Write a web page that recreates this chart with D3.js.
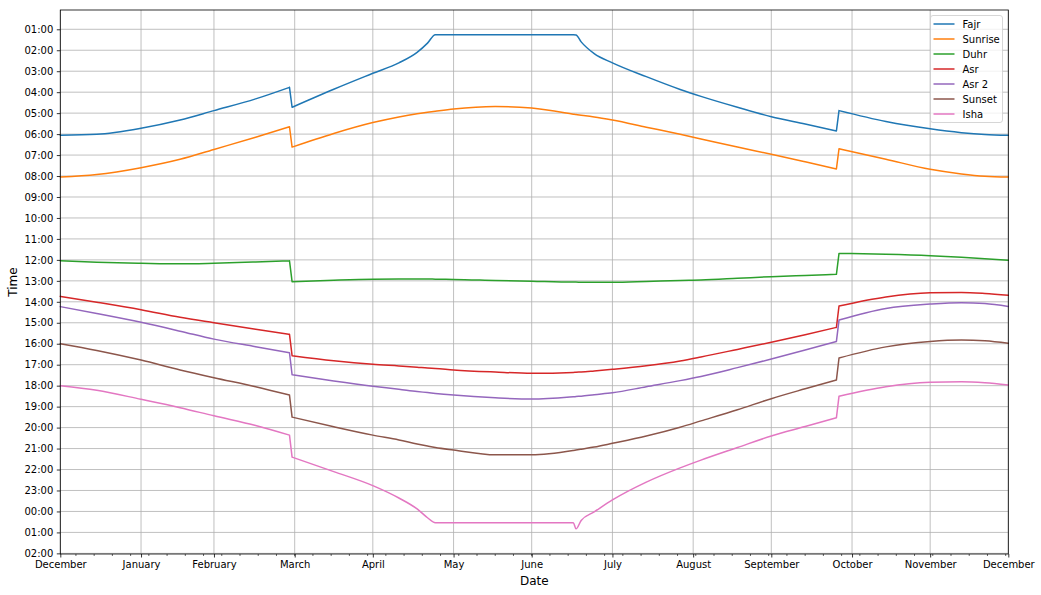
<!DOCTYPE html>
<html>
<head>
<meta charset="utf-8">
<script src="https://cdn.jsdelivr.net/npm/d3@7"></script>
<style>
  html, body { margin: 0; padding: 0; background: #fff; }
  svg { display: block; }
  text { font-family: "DejaVu Sans", sans-serif; }
</style>
</head>
<body>
<svg id="chart" width="1041" height="595"></svg>
<script>
// ---- data (day of year, 0 = 1 Jan 2019; times in hours, >24 = after midnight) ----
const days = [0, 14, 31, 46, 59, 75, 88, 89, 105, 120, 130, 137, 141, 144, 151, 167, 181, 197, 198, 200, 205, 212, 225, 238, 246, 260, 273, 286, 298, 299, 317, 334, 346, 355, 364];

const fajr    = [6.06, 6.01, 5.72, 5.33, 4.88, 4.32, 3.77, 4.72, 3.86, 3.10, 2.60, 2.10, 1.66, 1.26, 1.26, 1.26, 1.26, 1.26, 1.27, 1.60, 2.16, 2.60, 3.26, 3.87, 4.20, 4.72, 5.17, 5.52, 5.85, 4.88, 5.40, 5.75, 5.93, 6.02, 6.06];
const sunrise = [8.05, 7.93, 7.60, 7.20, 6.73, 6.15, 5.65, 6.62, 5.97, 5.45, 5.18, 5.03, 4.96, 4.91, 4.80, 4.68, 4.76, 5.05, 5.07, 5.10, 5.18, 5.33, 5.67, 6.01, 6.23, 6.62, 6.96, 7.32, 7.66, 6.70, 7.20, 7.68, 7.90, 8.01, 8.05];
const duhr    = [12.04, 12.11, 12.16, 12.19, 12.16, 12.10, 12.04, 13.04, 12.97, 12.92, 12.91, 12.91, 12.91, 12.92, 12.93, 12.98, 13.02, 13.06, 13.06, 13.07, 13.07, 13.07, 13.03, 12.98, 12.96, 12.88, 12.80, 12.74, 12.69, 11.69, 11.73, 11.80, 11.88, 11.95, 12.02];
const asr     = [13.74, 14.02, 14.38, 14.74, 15.00, 15.31, 15.55, 16.57, 16.81, 16.98, 17.06, 17.12, 17.16, 17.18, 17.25, 17.35, 17.41, 17.37, 17.36, 17.35, 17.30, 17.22, 17.05, 16.82, 16.63, 16.27, 15.93, 15.57, 15.22, 14.20, 13.77, 13.57, 13.55, 13.60, 13.69];
const asr2    = [14.23, 14.56, 14.98, 15.40, 15.78, 16.14, 16.43, 17.48, 17.78, 18.03, 18.17, 18.28, 18.33, 18.37, 18.45, 18.58, 18.64, 18.53, 18.52, 18.50, 18.43, 18.34, 18.05, 17.76, 17.56, 17.14, 16.73, 16.30, 15.89, 14.87, 14.32, 14.11, 14.04, 14.08, 14.22];
const sunset  = [16.00, 16.32, 16.78, 17.25, 17.62, 18.05, 18.45, 19.50, 19.96, 20.36, 20.59, 20.78, 20.88, 20.95, 21.07, 21.30, 21.30, 21.09, 21.07, 21.03, 20.93, 20.75, 20.40, 19.98, 19.68, 19.15, 18.62, 18.15, 17.73, 16.68, 16.15, 15.89, 15.82, 15.86, 15.98];
const isha    = [18.00, 18.22, 18.65, 19.05, 19.44, 19.90, 20.36, 21.41, 22.10, 22.77, 23.36, 23.88, 24.30, 24.54, 24.54, 24.54, 24.54, 24.54, 24.83, 24.43, 24.02, 23.45, 22.60, 21.92, 21.55, 20.95, 20.40, 19.95, 19.53, 18.50, 18.05, 17.84, 17.81, 17.86, 17.97];

const seriesNames = ["Fajr", "Sunrise", "Duhr", "Asr", "Asr 2", "Sunset", "Isha"];
const seriesColors = ["#1f77b4", "#ff7f0e", "#2ca02c", "#d62728", "#9467bd", "#8c564b", "#e377c2"];

// clock changes happen between these consecutive sample indices
const clockChangeIdx = [6, 28];

const xTickDays = [0, 31, 59, 90, 120, 151, 181, 212, 243, 273, 304, 334, 364];
const xTickLabels = ["December", "January", "February", "March", "April", "May", "June", "July", "August", "September", "October", "November", "December"];
const yTickHours = [1, 2, 3, 4, 5, 6, 7, 8, 9, 10, 11, 12, 13, 14, 15, 16, 17, 18, 19, 20, 21, 22, 23, 24, 25, 26];
const yTickLabels = ["01:00", "02:00", "03:00", "04:00", "05:00", "06:00", "07:00", "08:00", "09:00", "10:00", "11:00", "12:00", "13:00", "14:00", "15:00", "16:00", "17:00", "18:00", "19:00", "20:00", "21:00", "22:00", "23:00", "00:00", "01:00", "02:00"];

// ---- layout ----
const L = 60.3, R = 1008.3, T = 10, B = 554;
const dayToDate = d => new Date(Date.UTC(2019, 0, 1 + d));

const x = d3.scaleUtc().domain([dayToDate(0), dayToDate(364)]).range([L, R]);
const y = d3.scaleLinear().domain([0.08, 26.03]).range([T, B]);

const svg = d3.select("#chart");

// grid
const grid = svg.append("g");
grid.selectAll("line.vg").data(xTickDays).join("line")
  .attr("x1", d => x(dayToDate(d))).attr("x2", d => x(dayToDate(d)))
  .attr("y1", T).attr("y2", B)
  .attr("stroke", "#b0b0b0").attr("stroke-width", 0.8);
grid.selectAll("line.hg").data(yTickHours).join("line")
  .attr("x1", L).attr("x2", R)
  .attr("y1", d => y(d)).attr("y2", d => y(d))
  .attr("stroke", "#b0b0b0").attr("stroke-width", 0.8);

// lines: smooth between clock changes, straight across them
const allSeries = [fajr, sunrise, duhr, asr, asr2, sunset, isha];
const smooth = d3.line().x(p => x(dayToDate(p[0]))).y(p => y(p[1])).curve(d3.curveMonotoneX);
const straight = d3.line().x(p => x(dayToDate(p[0]))).y(p => y(p[1]));

const plot = svg.append("g");
allSeries.forEach((s, k) => {
  const pts = days.map((d, i) => [d, s[i]]);
  let dStr = "";
  let start = 0;
  clockChangeIdx.forEach(ci => {
    dStr += smooth(pts.slice(start, ci + 1));
    dStr += straight(pts.slice(ci, ci + 2));
    start = ci + 1;
  });
  dStr += smooth(pts.slice(start));
  plot.append("path")
    .attr("d", dStr)
    .attr("fill", "none")
    .attr("stroke", seriesColors[k])
    .attr("stroke-width", 1.5)
    .attr("stroke-linejoin", "round")
    .attr("stroke-linecap", "round");
});

// axes
const xAxis = d3.axisBottom(x)
  .tickValues(xTickDays.map(dayToDate))
  .tickFormat((d, i) => xTickLabels[i])
  .tickSize(3.5).tickPadding(3.5);
const gx = svg.append("g").attr("transform", `translate(0,${B})`).call(xAxis);
gx.select(".domain").remove();

const minor = d3.utcMonday.range(dayToDate(0), dayToDate(365));
svg.append("g").selectAll("line").data(minor).join("line")
  .attr("x1", d => x(d)).attr("x2", d => x(d))
  .attr("y1", B).attr("y2", B + 2)
  .attr("stroke", "#000").attr("stroke-width", 0.6);

const yAxis = d3.axisLeft(y)
  .tickValues(yTickHours)
  .tickFormat((d, i) => yTickLabels[i])
  .tickSize(3.5).tickPadding(3.5);
const gy = svg.append("g").attr("transform", `translate(${L},0)`).call(yAxis);
gy.select(".domain").remove();

svg.selectAll(".tick text").attr("font-family", "DejaVu Sans, sans-serif").attr("font-size", 10).attr("fill", "#000");
svg.selectAll(".tick line").attr("stroke", "#000").attr("stroke-width", 0.8);

// frame
svg.append("rect").attr("x", L).attr("y", T).attr("width", R - L).attr("height", B - T)
  .attr("fill", "none").attr("stroke", "#000").attr("stroke-width", 0.8);

// axis labels
svg.append("text").attr("x", (L + R) / 2).attr("y", 585).attr("text-anchor", "middle")
  .attr("font-size", 12).text("Date");
svg.append("text").attr("transform", `translate(17,${(T + B) / 2}) rotate(-90)`)
  .attr("text-anchor", "middle").attr("font-size", 12).text("Time");

// legend
const lg = svg.append("g").attr("transform", "translate(930.5,15.5)");
lg.append("rect").attr("width", 72).attr("height", 107).attr("rx", 2.5)
  .attr("fill", "#fff").attr("fill-opacity", 0.8).attr("stroke", "#cccccc").attr("stroke-width", 0.8);
seriesNames.forEach((n, i) => {
  const yy = 8.5 + i * 15;
  lg.append("line").attr("x1", 3).attr("x2", 24).attr("y1", yy).attr("y2", yy)
    .attr("stroke", seriesColors[i]).attr("stroke-width", 1.5);
  lg.append("text").attr("x", 32).attr("y", yy + 3.6).attr("font-size", 10).text(n);
});
</script>
</body>
</html>
